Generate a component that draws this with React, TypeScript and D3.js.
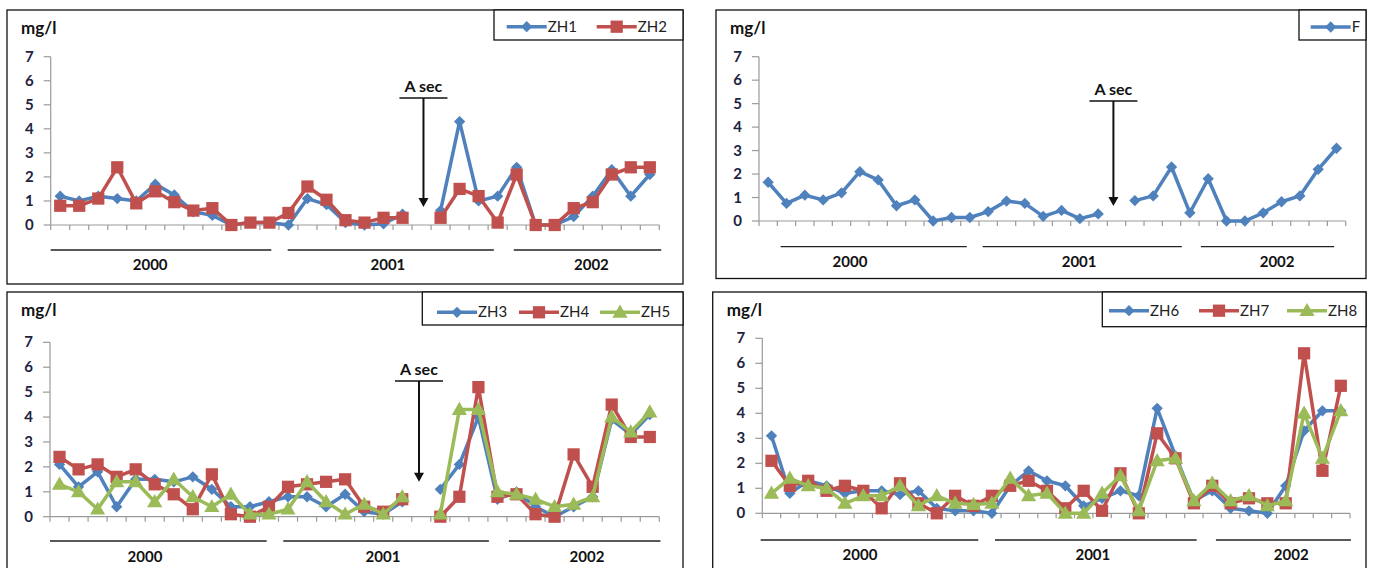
import React from 'react';
import * as d3 from 'd3';

// 32 sampling dates: 12 in 2000, 12 in 2001, 8 in 2002
const yearLabels = ['2000', '2001', '2002'];
const monthCount = 32;
const yTicks = [0, 1, 2, 3, 4, 5, 6, 7];

// null = no sample (around the "A sec" event)
const zh1 = [1.2, 1.0, 1.2, 1.1, 1.0, 1.7, 1.25, 0.55, 0.4, 0, 0.1, 0.1, 0, 1.1, 0.85, 0.1, 0, 0.05, 0.45, null, 0.6, 4.3, 1.0, 1.2, 2.4, 0, 0, 0.35, 1.2, 2.3, 1.2, 2.1];
const zh2 = [0.8, 0.8, 1.1, 2.4, 0.9, 1.4, 0.95, 0.6, 0.7, 0, 0.1, 0.1, 0.5, 1.6, 1.05, 0.2, 0.1, 0.3, 0.3, null, 0.3, 1.5, 1.2, 0.1, 2.1, 0, 0, 0.7, 0.95, 2.1, 2.4, 2.4];
const fSeries = [1.65, 0.75, 1.1, 0.9, 1.2, 2.1, 1.75, 0.65, 0.9, 0, 0.15, 0.15, 0.4, 0.85, 0.75, 0.2, 0.45, 0.1, 0.3, null, 0.87, 1.07, 2.3, 0.35, 1.8, 0, 0, 0.35, 0.82, 1.07, 2.2, 3.1];
const zh3 = [2.1, 1.2, 1.8, 0.4, 1.5, 1.5, 1.4, 1.6, 1.1, 0.4, 0.4, 0.6, 0.8, 0.8, 0.4, 0.9, 0.2, 0.1, 0.6, null, 1.1, 2.1, 4.0, 0.7, 1.0, 0.4, 0, 0.4, 0.8, 3.9, 3.3, 4.1];
const zh4 = [2.4, 1.9, 2.1, 1.6, 1.9, 1.3, 0.9, 0.3, 1.7, 0.1, 0, 0.4, 1.2, 1.3, 1.4, 1.5, 0.4, 0.2, 0.7, null, 0, 0.8, 5.2, 0.8, 0.9, 0.1, 0, 2.5, 1.2, 4.5, 3.2, 3.2];
const zh5 = [1.3, 1.0, 0.3, 1.4, 1.4, 0.6, 1.5, 0.8, 0.4, 0.9, 0.1, 0.1, 0.3, 1.4, 0.6, 0.1, 0.5, 0.1, 0.8, null, 0.1, 4.3, 4.3, 1.0, 0.9, 0.7, 0.4, 0.5, 0.8, 4.0, 3.4, 4.2];
const zh6 = [3.1, 0.8, 1.3, 1.1, 0.8, 0.9, 0.9, 0.75, 0.9, 0.2, 0.1, 0.1, 0, 1.1, 1.7, 1.3, 1.1, 0.3, 0.6, 0.9, 0.7, 4.2, 2.3, 0.5, 0.9, 0.2, 0.1, 0, 1.1, 3.3, 4.1, 4.1];
const zh7 = [2.1, 1.1, 1.3, 0.9, 1.1, 0.9, 0.2, 1.2, 0.4, 0, 0.7, 0.3, 0.7, 1.1, 1.3, 0.9, 0.2, 0.9, 0.1, 1.6, 0, 3.2, 2.2, 0.4, 1.1, 0.4, 0.6, 0.4, 0.4, 6.4, 1.7, 5.1];
const zh8 = [0.8, 1.4, 1.1, 1.0, 0.4, 0.7, 0.7, 1.1, 0.3, 0.7, 0.4, 0.35, 0.4, 1.4, 0.7, 0.8, 0, 0, 0.8, 1.5, 0.1, 2.1, 2.2, 0.5, 1.2, 0.5, 0.7, 0.3, 0.5, 4.0, 2.2, 4.1];

const BLUE = '#4F81BD';
const RED = '#C0504D';
const GREEN = '#9BBB59';
const FONT = 'Lato, "Open Sans", "Liberation Sans", sans-serif';

type Marker = 'diamond' | 'square' | 'triangle';
interface Series { name: string; values: (number | null)[]; color: string; marker: Marker }

interface Panel {
  frame: [number, number, number, number]; // x0, y0, x1, y1
  xRange: [number, number];
  yRange: [number, number];
  series: Series[];
  legend: { x0: number; y1: number; items: number[]; cy: number };
  years: { from: number; to: number; label: number }[];
  yearLineY: number;
  yearTextY: number;
  asec?: { at: number; textY: number; tipY: number };
}

const panels: Panel[] = [
  {
    frame: [7, 10, 683, 284],
    xRange: [50.7, 659.3],
    yRange: [225, 56.7],
    series: [
      { name: 'ZH1', values: zh1, color: BLUE, marker: 'diamond' },
      { name: 'ZH2', values: zh2, color: RED, marker: 'square' },
    ],
    legend: { x0: 494, y1: 40, items: [506.7, 596.7], cy: 26.7 },
    years: [
      { from: 0, to: 11.6, label: 5.23 },
      { from: 12.46, to: 23.3, label: 17.73 },
      { from: 24.35, to: 32.1, label: 28.43 },
    ],
    yearLineY: 250,
    yearTextY: 270,
    asec: { at: 19.6, textY: 92, tipY: 207 },
  },
  {
    frame: [716, 10, 1366, 278.5],
    xRange: [759, 1345.7],
    yRange: [221, 56.7],
    series: [{ name: 'F', values: fSeries, color: BLUE, marker: 'diamond' }],
    legend: { x0: 1299, y1: 40, items: [1310.7], cy: 27 },
    years: [
      { from: 1.18, to: 11.33, label: 4.96 },
      { from: 12.2, to: 23.06, label: 17.46 },
      { from: 24.1, to: 31.37, label: 28.26 },
    ],
    yearLineY: 246.7,
    yearTextY: 267,
    asec: { at: 19.33, textY: 95, tipY: 206 },
  },
  {
    frame: [7, 292, 683, 600],
    xRange: [50, 659.3],
    yRange: [516.7, 342.3],
    series: [
      { name: 'ZH3', values: zh3, color: BLUE, marker: 'diamond' },
      { name: 'ZH4', values: zh4, color: RED, marker: 'square' },
      { name: 'ZH5', values: zh5, color: GREEN, marker: 'triangle' },
    ],
    legend: { x0: 422.3, y1: 325, items: [437, 519, 600], cy: 312.3 },
    years: [
      { from: 0, to: 11.38, label: 4.99 },
      { from: 12.25, to: 23.05, label: 17.49 },
      { from: 24.1, to: 32.06, label: 28.2 },
    ],
    yearLineY: 541,
    yearTextY: 562,
    asec: { at: 19.38, textY: 375, tipY: 481.7 },
  },
  {
    frame: [712.7, 292, 1366, 600],
    xRange: [762.3, 1350],
    yRange: [513.3, 338.3],
    series: [
      { name: 'ZH6', values: zh6, color: BLUE, marker: 'diamond' },
      { name: 'ZH7', values: zh7, color: RED, marker: 'square' },
      { name: 'ZH8', values: zh8, color: GREEN, marker: 'triangle' },
    ],
    legend: { x0: 1102.3, y1: 326.7, items: [1109, 1199, 1287], cy: 310.7 },
    years: [
      { from: -0.09, to: 11.76, label: 5.32 },
      { from: 12.67, to: 23.65, label: 18.0 },
      { from: 24.7, to: 32.05, label: 28.8 },
    ],
    yearLineY: 540,
    yearTextY: 560,
  },
];

const markerPath = (m: Marker) => {
  if (m === 'square') return d3.symbol(d3.symbolSquare, 150)()!;
  if (m === 'triangle') return d3.symbol(d3.symbolTriangle, 100)()!;
  return d3.symbol(d3.symbolSquare, 64)()!;
};

const MarkerShape = ({ m, x, y, color }: { m: Marker; x: number; y: number; color: string }) => (
  <path
    d={markerPath(m)}
    fill={color}
    transform={`translate(${x},${y})${m === 'diamond' ? ' rotate(45)' : m === 'triangle' ? ' translate(0,1)' : ''}`}
  />
);

const ChartPanel = ({ p }: { p: Panel }) => {
  const x = d3.scaleLinear().domain([0, monthCount]).range(p.xRange);
  const y = d3.scaleLinear().domain([0, 7]).range(p.yRange);
  const cx = (i: number) => x(i + 0.5);
  const line = d3
    .line<number | null>()
    .defined((d) => d != null)
    .x((_, i) => cx(i))
    .y((d) => y(d as number));
  const [fx0, fy0, fx1, fy1] = p.frame;
  const axisColor = '#9a9a9a';

  return (
    <g>
      <rect x={fx0} y={fy0} width={fx1 - fx0} height={fy1 - fy0} fill="#fff" stroke="#111" strokeWidth={1.3} />
      <text x={fx0 + 14} y={fy0 + 24} fontFamily={FONT} fontWeight="bold" fontSize={17} fill="#111">mg/l</text>

      {/* y axis */}
      <line x1={x(0)} x2={x(0)} y1={y(0)} y2={y(7)} stroke={axisColor} strokeWidth={1.2} />
      {yTicks.map((t) => (
        <g key={t}>
          <line x1={x(0) - 7} x2={x(0)} y1={y(t)} y2={y(t)} stroke={axisColor} strokeWidth={1.2} />
          <text x={x(0) - 17} y={y(t) + 5} textAnchor="end" fontFamily={FONT} fontWeight="bold" fontSize={15} fill="#1d2340">
            {t}
          </text>
        </g>
      ))}

      {/* x axis */}
      <line x1={x(0)} x2={x(monthCount)} y1={y(0)} y2={y(0)} stroke={axisColor} strokeWidth={1.2} />
      {d3.range(monthCount + 1).map((i) => (
        <line key={i} x1={x(i)} x2={x(i)} y1={y(0)} y2={y(0) + 5} stroke={axisColor} strokeWidth={1.2} />
      ))}

      {/* year brackets */}
      {p.years.map((yr, k) => (
        <g key={yearLabels[k]}>
          <line x1={x(yr.from)} x2={x(yr.to)} y1={p.yearLineY} y2={p.yearLineY} stroke="#222" strokeWidth={1.3} />
          <text x={x(yr.label)} y={p.yearTextY} textAnchor="middle" fontFamily={FONT} fontWeight="bold" fontSize={15} fill="#111">
            {yearLabels[k]}
          </text>
        </g>
      ))}

      {/* series */}
      {p.series.map((s) => (
        <g key={s.name}>
          <path d={line(s.values) || ''} fill="none" stroke={s.color} strokeWidth={3.5} strokeLinejoin="round" />
          {s.values.map((v, i) =>
            v == null ? null : <MarkerShape key={i} m={s.marker} x={cx(i)} y={y(v)} color={s.color} />
          )}
        </g>
      ))}

      {/* A sec arrow */}
      {p.asec && (
        <g>
          <text x={x(p.asec.at)} y={p.asec.textY} textAnchor="middle" fontFamily={FONT} fontWeight="bold" fontSize={16} fill="#111">
            A sec
          </text>
          <line x1={x(p.asec.at) - 24} x2={x(p.asec.at) + 24} y1={p.asec.textY + 6} y2={p.asec.textY + 6} stroke="#111" strokeWidth={1.5} />
          <line x1={x(p.asec.at)} x2={x(p.asec.at)} y1={p.asec.textY + 6} y2={p.asec.tipY - 7} stroke="#111" strokeWidth={2} />
          <path
            d={`M${x(p.asec.at) - 5},${p.asec.tipY - 9}L${x(p.asec.at) + 5},${p.asec.tipY - 9}L${x(p.asec.at)},${p.asec.tipY}Z`}
            fill="#111"
          />
        </g>
      )}

      {/* legend */}
      <rect x={p.legend.x0} y={fy0} width={fx1 - p.legend.x0} height={p.legend.y1 - fy0} fill="#fff" stroke="#111" strokeWidth={1.3} />
      {p.series.map((s, k) => {
        const lx = p.legend.items[k];
        return (
          <g key={s.name}>
            <line x1={lx} x2={lx + 40} y1={p.legend.cy} y2={p.legend.cy} stroke={s.color} strokeWidth={3.5} />
            <MarkerShape m={s.marker} x={lx + 20} y={p.legend.cy} color={s.color} />
            <text x={lx + 41} y={p.legend.cy + 5} fontFamily={FONT} fontSize={15} fill="#222">
              {s.name}
            </text>
          </g>
        );
      })}
    </g>
  );
};

export default function App() {
  return (
    <svg width={1374} height={568} style={{ position: 'absolute', left: 0, top: 0, background: '#fff' }}>
      <rect width={1374} height={568} fill="#fff" />
      {panels.map((p, i) => (
        <ChartPanel key={i} p={p} />
      ))}
    </svg>
  );
}
